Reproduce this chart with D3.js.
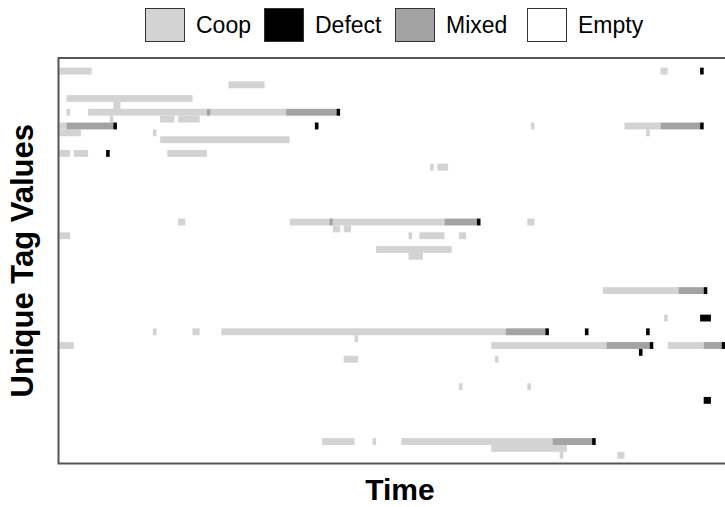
<!DOCTYPE html>
<html>
<head>
<meta charset="utf-8">
<script src="https://cdn.jsdelivr.net/npm/d3@7"></script>
<style>
  html, body { margin: 0; padding: 0; background: #fff; }
  svg { display: block; }
</style>
</head>
<body>
<svg id="chart" width="725" height="507"></svg>
<script>
// States a tag can be in at each time step, and their fills
const states = ["Coop", "Defect", "Mixed", "Empty"];
const stateColors = ["#d3d3d3", "#000000", "#a3a3a3", "#ffffff"];

// Tag rows (top to bottom) and number of time steps
const tagIds = d3.range(58);
const timeSteps = 190;

// Runs of each state: [tag row, first step, step after last]
const coopRuns = [
  [1, 0, 9], [1, 167, 169],
  [3, 47, 57],
  [5, 2, 37],
  [6, 15, 17],
  [7, 2, 3], [7, 8, 41], [7, 42, 63],
  [8, 14, 15], [8, 28, 32], [8, 33, 39],
  [9, 0, 2], [9, 131, 132], [9, 157, 167],
  [10, 0, 6], [10, 26, 27], [10, 163, 164],
  [11, 28, 64],
  [13, 0, 3], [13, 4, 8], [13, 30, 41],
  [15, 103, 104], [15, 105, 108],
  [23, 33, 35], [23, 64, 75], [23, 76, 107], [23, 130, 132],
  [24, 76, 78], [24, 79, 81],
  [25, 0, 3], [25, 97, 98], [25, 100, 107], [25, 111, 113],
  [27, 88, 109],
  [28, 97, 101],
  [33, 151, 172],
  [37, 168, 169],
  [39, 26, 27], [39, 37, 39], [39, 45, 124],
  [40, 82, 83],
  [41, 0, 4], [41, 120, 152], [41, 169, 179],
  [43, 79, 83], [43, 121, 122],
  [47, 111, 112], [47, 130, 131],
  [55, 73, 82], [55, 87, 88], [55, 95, 137],
  [56, 120, 141],
  [57, 139, 140], [57, 155, 157]
];

const mixedRuns = [
  [7, 41, 42], [7, 63, 77],
  [9, 2, 15], [9, 167, 178],
  [23, 75, 76], [23, 107, 116],
  [33, 172, 179],
  [39, 124, 135],
  [41, 152, 164], [41, 179, 184],
  [55, 137, 148]
];

const defectRuns = [
  [1, 178, 179],
  [7, 77, 78],
  [9, 15, 16], [9, 71, 72], [9, 178, 179],
  [13, 13, 14],
  [23, 116, 117],
  [33, 179, 180],
  [37, 178, 181],
  [39, 135, 136], [39, 146, 147], [39, 163, 164],
  [41, 164, 165], [41, 184, 185],
  [42, 161, 162],
  [49, 179, 181],
  [55, 148, 149]
];

const svg = d3.select("#chart");
const W = 725, H = 507;

// Panel box (its right edge runs past the page edge)
const panel = { left: 58, top: 58, right: 742, bottom: 463.5 };

const color = d3.scaleOrdinal().domain(states).range(stateColors);

const x = d3.scaleLinear()
  .domain([0, timeSteps])
  .range([59.3, 743.3]);

const y = d3.scaleBand()
  .domain(tagIds)
  .range([60.8, 458.7])
  .padding(0);

svg.append("rect")
  .attr("x", 0).attr("y", 0).attr("width", W).attr("height", H)
  .attr("fill", "#fff");

svg.append("defs").append("clipPath").attr("id", "panel-clip")
  .append("rect")
  .attr("x", panel.left).attr("y", panel.top)
  .attr("width", panel.right - panel.left)
  .attr("height", panel.bottom - panel.top);

const cells = svg.append("g").attr("clip-path", "url(#panel-clip)");

const layers = [
  { state: "Coop", runs: coopRuns },
  { state: "Mixed", runs: mixedRuns },
  { state: "Defect", runs: defectRuns }
];

layers.forEach(layer => {
  cells.selectAll(null)
    .data(layer.runs)
    .join("rect")
    .attr("x", d => x(d[1]))
    .attr("width", d => x(d[2]) - x(d[1]))
    .attr("y", d => y(d[0]))
    .attr("height", y.bandwidth())
    .attr("fill", color(layer.state));
});

// Panel frame
svg.append("rect")
  .attr("x", panel.left + 0.5)
  .attr("y", panel.top)
  .attr("width", panel.right - panel.left)
  .attr("height", panel.bottom - panel.top)
  .attr("fill", "none")
  .attr("stroke", "#555")
  .attr("stroke-width", 2);

// Legend across the top
const legendKeys = [
  { state: "Coop", x: 145 },
  { state: "Defect", x: 264 },
  { state: "Mixed", x: 395 },
  { state: "Empty", x: 527 }
];

const legend = svg.append("g")
  .attr("font-family", "'Liberation Sans', Arial, sans-serif")
  .attr("font-size", 23);

const items = legend.selectAll("g")
  .data(legendKeys)
  .join("g")
  .attr("transform", d => `translate(${d.x},8)`);

items.append("rect")
  .attr("x", 0.5).attr("y", 0.5)
  .attr("width", 39).attr("height", 33)
  .attr("fill", d => color(d.state))
  .attr("stroke", "#333")
  .attr("stroke-width", 1);

items.append("text")
  .attr("x", 51)
  .attr("y", 25)
  .attr("fill", "#000")
  .text(d => d.state);

// Axis titles
svg.append("text")
  .attr("x", (panel.left + panel.right) / 2)
  .attr("y", 500)
  .attr("text-anchor", "middle")
  .attr("font-family", "'Liberation Sans', Arial, sans-serif")
  .attr("font-weight", "bold")
  .attr("font-size", 30)
  .attr("fill", "#000")
  .text("Time");

svg.append("text")
  .attr("transform", `translate(33,${(panel.top + panel.bottom) / 2}) rotate(-90)`)
  .attr("text-anchor", "middle")
  .attr("font-family", "'Liberation Sans', Arial, sans-serif")
  .attr("font-weight", "bold")
  .attr("font-size", 31)
  .attr("fill", "#000")
  .text("Unique Tag Values");
</script>
</body>
</html>
